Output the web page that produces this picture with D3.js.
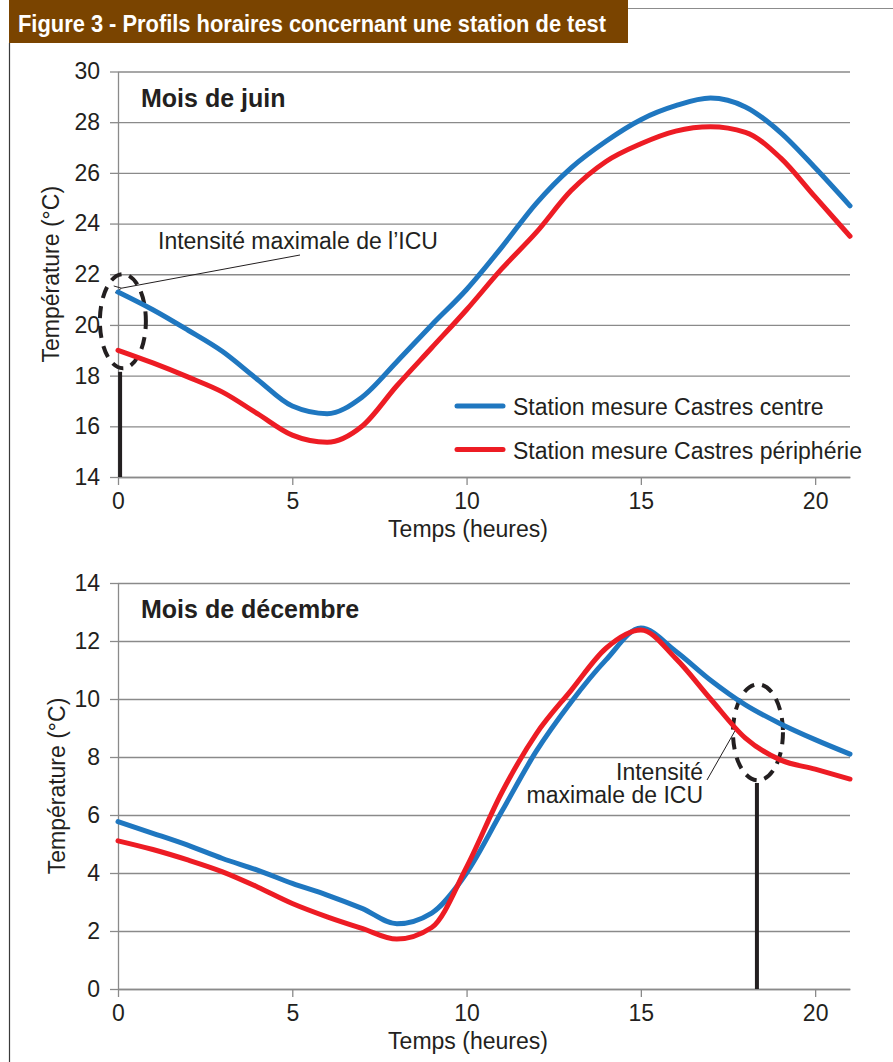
<!DOCTYPE html>
<html>
<head>
<meta charset="utf-8">
<script src="https://cdn.jsdelivr.net/npm/d3@7"></script>
<style>
  body { margin: 0; background: #ffffff; }
  svg text { font-family: "Liberation Sans", Arial, Helvetica, sans-serif; fill: #231f20; }
</style>
</head>
<body>
<svg id="figure" width="893" height="1062"></svg>
<script>
// data (hourly values, °C)
let hours = [0, 1, 2, 3, 4, 5, 6, 7, 8, 9, 10, 11, 12, 13, 14, 15, 16, 17, 18, 19, 20, 21];

let juinCentre     = [21.3, 20.6, 19.8, 18.95, 17.85, 16.8, 16.5, 17.15, 18.55, 20.0, 21.4, 23.05,
                      24.8, 26.2, 27.25, 28.1, 28.65, 28.95, 28.6, 27.6, 26.2, 24.7];
let juinPeripherie = [19.0, 18.5, 17.95, 17.35, 16.5, 15.65, 15.37, 16.0, 17.6, 19.1, 20.6, 22.2,
                      23.65, 25.3, 26.45, 27.15, 27.65, 27.82, 27.6, 26.6, 25.05, 23.5];

let decCentre      = [5.77, 5.37, 4.96, 4.5, 4.1, 3.64, 3.24, 2.78, 2.25, 2.62, 4.0, 6.1,
                      8.2, 9.9, 11.35, 12.45, 11.65, 10.65, 9.8, 9.15, 8.6, 8.1];
let decPeripherie  = [5.11, 4.81, 4.45, 4.04, 3.52, 2.95, 2.49, 2.09, 1.72, 2.12, 4.2, 6.75,
                      8.8, 10.3, 11.75, 12.38, 11.4, 10.0, 8.65, 7.9, 7.58, 7.24];

let seriesNames = ["Station mesure Castres centre", "Station mesure Castres périphérie"];
let xTicks = [0, 5, 10, 15, 20];
let juinTicks = [14, 16, 18, 20, 22, 24, 26, 28, 30];
let decTicks = [0, 2, 4, 6, 8, 10, 12, 14];

let color = d3.scaleOrdinal()
    .domain(seriesNames)
    .range(["#1f77c0", "#ed1c24"]);

let svg = d3.select("#figure");
let fontSize = "23px";
let gridColor = "#8a8a8a";

// header band and frame
svg.append("rect")
    .attr("x", 9).attr("y", 0)
    .attr("width", 619).attr("height", 43)
    .attr("fill", "#7a4400");
svg.append("text")
    .text("Figure 3 - Profils horaires concernant une station de test")
    .attr("x", 18).attr("y", 32)
    .attr("textLength", 588)
    .attr("lengthAdjust", "spacingAndGlyphs")
    .style("font-family", "'Liberation Sans Narrow', 'Liberation Sans', Arial, sans-serif")
    .style("font-weight", "bold")
    .style("font-size", "24px")
    .style("fill", "#ffffff");
svg.append("line")
    .attr("x1", 628).attr("x2", 893).attr("y1", 8.5).attr("y2", 8.5)
    .attr("stroke", "#8c8c8c").attr("stroke-width", 1.2);
svg.append("line")
    .attr("x1", 9.5).attr("x2", 9.5).attr("y1", 43).attr("y2", 1062)
    .attr("stroke", "#3a3a3a").attr("stroke-width", 1.2);

// arrow head for the annotation
svg.append("defs").append("marker")
    .attr("id", "arrow")
    .attr("viewBox", "0 0 10 10")
    .attr("refX", 1).attr("refY", 5)
    .attr("markerWidth", 9).attr("markerHeight", 9)
    .attr("markerUnits", "userSpaceOnUse")
    .attr("orient", "auto-start-reverse")
    .append("path")
    .attr("d", "M9,1 L1,5 L9,9")
    .attr("fill", "none")
    .attr("stroke", "#231f20")
    .attr("stroke-width", 1);

function load_profile(cfg) {
    let chart = svg.append("g");

    // x position scale for time
    let x = d3.scaleLinear()
        .domain([0, 21])
        .range([118, 850]);

    // y position scale for temperature
    let y = d3.scaleLinear()
        .domain(cfg.yDomain)
        .range(cfg.yRange);

    // horizontal grid
    chart.append("g")
        .attr("transform", "translate(118,0)")
        .call(d3.axisRight(y).tickValues(cfg.yTicks).tickSize(732).tickFormat(""))
        .call(g => g.select(".domain").remove())
        .call(g => g.selectAll("line").attr("stroke", gridColor).attr("stroke-width", 1.3));

    // y axis
    let yAxis = chart.append("g")
        .attr("transform", "translate(118,0)")
        .call(d3.axisLeft(y).tickValues(cfg.yTicks).tickSize(8).tickSizeOuter(0).tickPadding(10));
    yAxis.selectAll("path, line").attr("stroke", gridColor).attr("stroke-width", 1.3);
    yAxis.selectAll("text").style("font-size", fontSize).style("font-family", null).attr("fill", null);

    // x axis
    let xAxis = chart.append("g")
        .attr("transform", "translate(0," + cfg.yRange[0] + ")")
        .call(d3.axisBottom(x).tickValues(xTicks).tickSize(8).tickSizeOuter(0).tickPadding(8));
    xAxis.selectAll("path, line").attr("stroke", gridColor).attr("stroke-width", 1.3);
    xAxis.selectAll("text").style("font-size", fontSize).style("font-family", null).attr("fill", null);

    // axis titles
    chart.append("text")
        .text("Température (°C)")
        .attr("transform", "rotate(-90)")
        .attr("x", -(cfg.yRange[0] + cfg.yRange[1]) / 2)
        .attr("y", cfg.yTitleX)
        .style("font-size", fontSize)
        .style("text-anchor", "middle");
    chart.append("text")
        .text("Temps (heures)")
        .attr("x", 468)
        .attr("y", cfg.yRange[0] + 60)
        .style("font-size", fontSize)
        .style("text-anchor", "middle");

    // panel title
    chart.append("text")
        .text(cfg.title)
        .attr("x", 141)
        .attr("y", cfg.yRange[1] + 35)
        .style("font-size", "25px")
        .style("font-weight", "bold");

    // annotation: dashed ellipse, black bar, label
    let a = cfg.note;
    chart.append("line")
        .attr("x1", x(a.barX)).attr("x2", x(a.barX))
        .attr("y1", y(a.barTop)).attr("y2", y(cfg.yDomain[0]))
        .attr("stroke", "#231f20")
        .attr("stroke-width", 4);
    chart.append("ellipse")
        .attr("cx", x(a.cx)).attr("cy", y(a.cy))
        .attr("rx", a.rx).attr("ry", a.ry)
        .attr("fill", "none")
        .attr("stroke", "#231f20")
        .attr("stroke-width", 4)
        .attr("stroke-dasharray", "12 8")
        .attr("stroke-dashoffset", a.dashOffset);
    chart.append("line")
        .attr("x1", a.from[0]).attr("y1", a.from[1])
        .attr("x2", x(a.to[0])).attr("y2", y(a.to[1]))
        .attr("stroke", "#231f20")
        .attr("stroke-width", 1)
        .attr("marker-end", a.arrow ? "url(#arrow)" : null);
    chart.selectAll("notelines")
        .data(a.lines)
        .enter()
        .append("text")
        .text(d => d)
        .attr("x", a.textX)
        .attr("y", (d, i) => a.textY + i * 23)
        .style("font-size", fontSize)
        .style("text-anchor", a.anchor);

    // series lines
    let line = d3.line()
        .x((d, i) => x(hours[i]))
        .y(d => y(d))
        .curve(d3.curveMonotoneX);

    chart.selectAll("series")
        .data(cfg.series)
        .enter()
        .append("path")
        .attr("d", d => line(d))
        .attr("fill", "none")
        .attr("stroke", (d, i) => color(seriesNames[i]))
        .attr("stroke-width", 5)
        .attr("stroke-linecap", "round")
        .attr("stroke-linejoin", "round");

    return { chart: chart, x_scale: x, y_scale: y };
}

let juin = load_profile({
    title: "Mois de juin",
    yDomain: [14, 30], yRange: [477, 71.5], yTicks: juinTicks, yTitleX: 59,
    series: [juinCentre, juinPeripherie],
    note: {
        cx: 0.14, cy: 20.15, rx: 23, ry: 47, dashOffset: 4,
        barX: 0.06, barTop: 18.15,
        from: [300, 255], to: [0.1, 21.45], arrow: true,
        lines: ["Intensité maximale de l’ICU"], textX: 158, textY: 249, anchor: "start"
    }
});

let dec = load_profile({
    title: "Mois de décembre",
    yDomain: [0, 14], yRange: [989, 583], yTicks: decTicks, yTitleX: 65,
    series: [decCentre, decPeripherie],
    note: {
        cx: 18.36, cy: 8.85, rx: 25, ry: 48, dashOffset: 0,
        barX: 18.33, barTop: 7.1,
        from: [707, 780], to: [17.7, 8.9], arrow: false,
        lines: ["Intensité", "maximale de ICU"], textX: 703, textY: 780, anchor: "end"
    }
});

// legend, in the June panel
let legend = svg.append("g");
legend.selectAll("legendlines")
    .data(seriesNames)
    .enter()
    .append("line")
    .attr("x1", 457).attr("x2", 503)
    .attr("y1", (d, i) => 406 + i * 43.5)
    .attr("y2", (d, i) => 406 + i * 43.5)
    .attr("stroke", d => color(d))
    .attr("stroke-width", 5)
    .attr("stroke-linecap", "round");
legend.selectAll("legendlabels")
    .data(seriesNames)
    .enter()
    .append("text")
    .text(d => d)
    .attr("x", 513)
    .attr("y", (d, i) => 415 + i * 43.5)
    .style("font-size", fontSize);
</script>
</body>
</html>
